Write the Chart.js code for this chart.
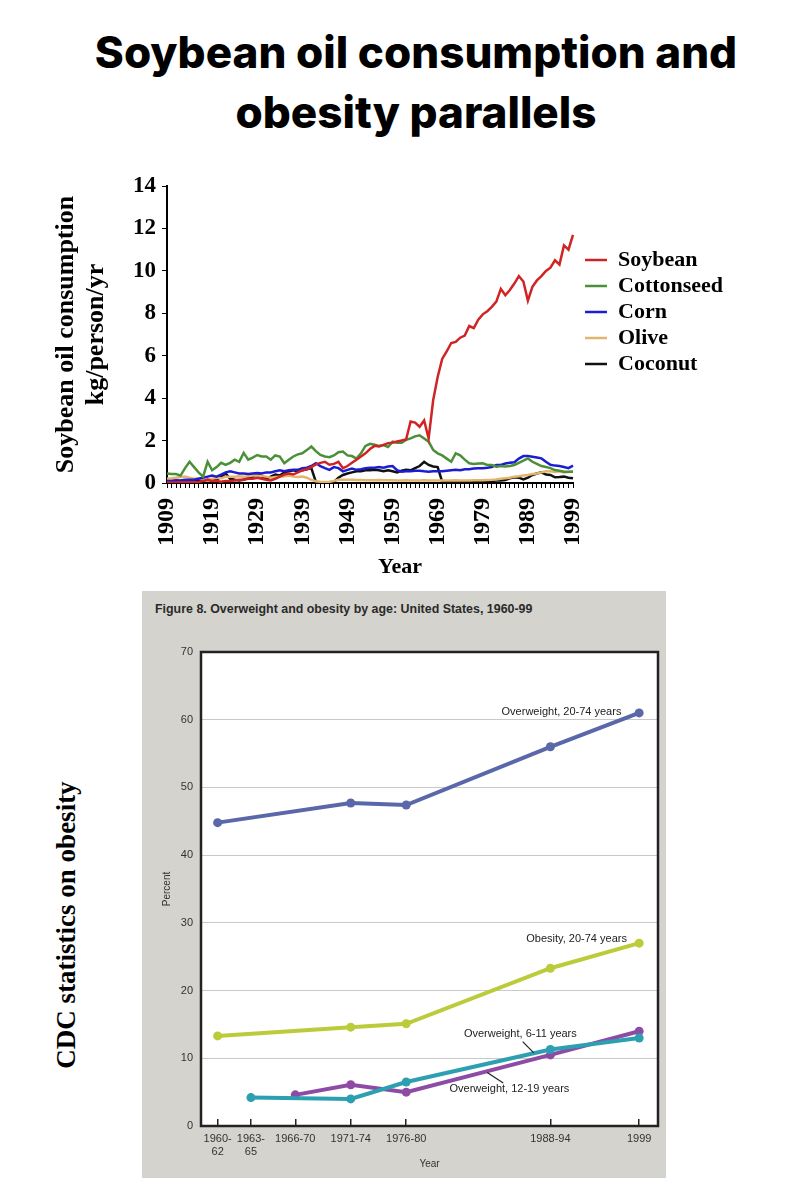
<!DOCTYPE html>
<html>
<head>
<meta charset="utf-8">
<title>Soybean oil consumption and obesity parallels</title>
<script src="https://cdn.jsdelivr.net/npm/chart.js@4.4.1/dist/chart.umd.min.js"></script>
<style>
  html, body { margin: 0; padding: 0; background: #fff; }
  body { width: 800px; height: 1200px; position: relative; overflow: hidden; }
  #pageTitle {
    position: absolute; left: 16px; top: 22px; width: 800px;
    text-align: center; color: #000;
    font-family: Inter, "Open Sans", sans-serif; font-weight: 800;
    font-size: 44px; line-height: 60px;
  }
  #oilChart { position: absolute; left: 0; top: 160px; }
  #yearLabel {
    position: absolute; left: 350px; top: 553px; width: 100px; text-align: center;
    font: bold 22px/26px "Liberation Serif", serif; color: #000;
  }
  #cdcLabel {
    position: absolute; left: 66px; top: 925px; white-space: nowrap;
    transform: translate(-50%, -50%) rotate(-90deg);
    font: bold 27px/32px "Liberation Serif", serif; color: #000;
  }
  #panel { position: absolute; left: 142px; top: 591px; width: 524px; height: 587px; background: #d4d3ce; }
  #figTitle {
    position: absolute; left: 13px; top: 10px; white-space: nowrap; color: #2a2a2a;
    font: bold 13px/16px "Liberation Sans", Arial, sans-serif;
    transform: scaleX(0.955); transform-origin: left center;
  }
  #cdcChart { position: absolute; left: 0; top: 0; }
</style>
</head>
<body>
<div id="pageTitle">Soybean oil consumption and<br>obesity parallels</div>
<canvas id="oilChart" width="800" height="420"></canvas>
<div id="yearLabel">Year</div>
<div id="cdcLabel">CDC statistics on obesity</div>
<div id="panel">
  <div id="figTitle">Figure 8. Overweight and obesity by age: United States, 1960-99</div>
  <canvas id="cdcChart" width="524" height="587"></canvas>
</div>
<script>
// ---- top chart: oil consumption, kg/person/yr ----
const years = [
  '1909','1910','1911','1912','1913','1914','1915','1916','1917','1918',
  '1919','1920','1921','1922','1923','1924','1925','1926','1927','1928',
  '1929','1930','1931','1932','1933','1934','1935','1936','1937','1938',
  '1939','1940','1941','1942','1943','1944','1945','1946','1947','1948',
  '1949','1950','1951','1952','1953','1954','1955','1956','1957','1958',
  '1959','1960','1961','1962','1963','1964','1965','1966','1967','1968',
  '1969','1970','1971','1972','1973','1974','1975','1976','1977','1978',
  '1979','1980','1981','1982','1983','1984','1985','1986','1987','1988',
  '1989','1990','1991','1992','1993','1994','1995','1996','1997','1998',
  '1999'
];
const yearTicks = ['1909','1919','1929','1939','1949','1959','1969','1979','1989','1999'];

const soybean = [
  0.02, 0.02, 0.02, 0.03, 0.03, 0.03, 0.04, 0.05, 0.10, 0.15,
  0.10, 0.10, 0.06, 0.10, 0.10, 0.12, 0.15, 0.15, 0.20, 0.20,
  0.25, 0.20, 0.15, 0.12, 0.20, 0.30, 0.40, 0.45, 0.40, 0.50,
  0.60, 0.65, 0.75, 0.88, 0.95, 1.00, 0.86, 0.90, 1.00, 0.70,
  0.80, 0.95, 1.10, 1.25, 1.40, 1.60, 1.75, 1.72, 1.80, 1.88,
  1.90, 1.96, 2.00, 2.05, 2.90, 2.85, 2.65, 2.95, 2.10, 3.90,
  5.00, 5.85, 6.20, 6.60, 6.65, 6.85, 6.95, 7.40, 7.30, 7.70,
  7.95, 8.10, 8.30, 8.55, 9.15, 8.85, 9.10, 9.40, 9.75, 9.50,
  8.60, 9.25, 9.55, 9.75, 10.00, 10.15, 10.50, 10.30, 11.20, 11.00,
  11.70
];
const cottonseed = [
  0.45, 0.42, 0.42, 0.35, 0.70, 1.00, 0.75, 0.50, 0.30, 1.00,
  0.60, 0.75, 0.95, 0.85, 0.95, 1.10, 1.00, 1.42, 1.10, 1.20,
  1.32, 1.25, 1.25, 1.10, 1.30, 1.25, 0.93, 1.10, 1.25, 1.35,
  1.40, 1.55, 1.72, 1.50, 1.32, 1.25, 1.22, 1.30, 1.45, 1.48,
  1.30, 1.27, 1.15, 1.40, 1.75, 1.85, 1.80, 1.75, 1.79, 1.70,
  1.95, 1.90, 1.90, 2.03, 2.10, 2.20, 2.25, 2.10, 1.95, 1.56,
  1.40, 1.30, 1.15, 1.00, 1.40, 1.30, 1.10, 0.93, 0.90, 0.92,
  0.93, 0.85, 0.85, 0.77, 0.80, 0.78, 0.80, 0.85, 0.95, 1.05,
  1.16, 1.00, 0.90, 0.80, 0.75, 0.70, 0.61, 0.58, 0.53, 0.53,
  0.53
];
const corn = [
  0.10, 0.10, 0.12, 0.12, 0.15, 0.15, 0.15, 0.20, 0.25, 0.30,
  0.35, 0.30, 0.40, 0.50, 0.55, 0.50, 0.45, 0.45, 0.42, 0.45,
  0.47, 0.45, 0.50, 0.50, 0.55, 0.60, 0.55, 0.60, 0.62, 0.62,
  0.70, 0.72, 0.80, 0.93, 0.80, 0.70, 0.62, 0.75, 0.70, 0.55,
  0.62, 0.68, 0.62, 0.65, 0.70, 0.72, 0.72, 0.75, 0.72, 0.78,
  0.80, 0.60, 0.53, 0.55, 0.55, 0.58, 0.58, 0.55, 0.53, 0.55,
  0.55, 0.55, 0.58, 0.60, 0.62, 0.60, 0.65, 0.65, 0.68, 0.70,
  0.70, 0.72, 0.75, 0.85, 0.85, 0.92, 0.95, 0.98, 1.15, 1.27,
  1.27, 1.24, 1.20, 1.16, 1.00, 0.86, 0.82, 0.80, 0.75, 0.70,
  0.82
];
const olive = [
  0.20, 0.22, 0.25, 0.28, 0.30, 0.25, 0.20, 0.22, 0.15, 0.12,
  0.20, 0.25, 0.22, 0.30, 0.30, 0.30, 0.32, 0.30, 0.32, 0.35,
  0.35, 0.33, 0.30, 0.25, 0.28, 0.30, 0.32, 0.35, 0.30, 0.28,
  0.30, 0.25, 0.15, 0.08, 0.06, 0.05, 0.06, 0.10, 0.15, 0.15,
  0.15, 0.15, 0.14, 0.14, 0.13, 0.13, 0.13, 0.14, 0.13, 0.13,
  0.13, 0.12, 0.12, 0.13, 0.12, 0.12, 0.12, 0.13, 0.12, 0.12,
  0.12, 0.12, 0.12, 0.12, 0.13, 0.12, 0.12, 0.12, 0.13, 0.13,
  0.13, 0.14, 0.15, 0.17, 0.20, 0.22, 0.25, 0.30, 0.32, 0.35,
  0.38, 0.42, 0.45, 0.50, 0.55, 0.55, 0.52, 0.55, 0.50, 0.52,
  0.55
];
const coconut = [
  0.10, 0.10, 0.12, 0.10, 0.12, 0.15, 0.10, 0.12, 0.10, 0.15,
  0.12, 0.15, 0.30, 0.45, 0.20, 0.15, 0.12, 0.15, 0.25, 0.30,
  0.45, 0.30, 0.20, 0.30, 0.40, 0.35, 0.50, 0.55, 0.60, 0.55,
  0.60, 0.65, 0.70, 0.05, 0.03, 0.03, 0.03, 0.05, 0.25, 0.38,
  0.45, 0.50, 0.55, 0.55, 0.60, 0.60, 0.62, 0.60, 0.55, 0.60,
  0.55, 0.50, 0.58, 0.62, 0.60, 0.70, 0.80, 1.00, 0.85, 0.78,
  0.75, 0.06, 0.06, 0.06, 0.06, 0.07, 0.07, 0.08, 0.08, 0.08,
  0.10, 0.10, 0.10, 0.12, 0.12, 0.14, 0.22, 0.27, 0.25, 0.17,
  0.25, 0.38, 0.45, 0.50, 0.40, 0.38, 0.27, 0.28, 0.30, 0.25,
  0.22
];

// ---- bottom chart: CDC overweight / obesity, percent ----
const periodX = [1961, 1964, 1968, 1973, 1978, 1991, 1999];
const periodLabels = [['1960-', '62'], ['1963-', '65'], '1966-70', '1971-74', '1976-80', '1988-94', '1999'];
const overweightAdult = [44.8, null, null, 47.7, 47.4, 56.0, 61.0];
const obesityAdult    = [13.3, null, null, 14.6, 15.1, 23.3, 27.0];
const overweight6to11 = [null, 4.2, null, 4.0, 6.5, 11.3, 13.0];
const overweight12to19 = [null, null, 4.6, 6.1, 5.0, 10.5, 14.0];

// series labels, placed in data units
const seriesNotes = [
  { text: 'Overweight, 20-74 years', x: 1997.4, y: 61.2, align: 'right' },
  { text: 'Obesity, 20-74 years', x: 1997.9, y: 27.6, align: 'right' },
  { text: 'Overweight, 6-11 years', x: 1983.2, y: 13.6, align: 'left', leader: [1988.5, 12.45, 1989.5, 10.8] },
  { text: 'Overweight, 12-19 years', x: 1981.9, y: 5.47, align: 'left', leader: [1985.3, 7.9, 1986.75, 6.35] }
];

const serif = 'Liberation Serif';
const sans = 'Liberation Sans';

// move the legend down next to the lines, like the original figure
const legendPlace = {
  id: 'legendPlace',
  afterLayout(chart) {
    const lg = chart.legend;
    lg.left = chart.chartArea.right + 8;
    lg.right = chart.width;
    lg.width = lg.right - lg.left;
    lg.top = chart.chartArea.top + 59;
  }
};

function oilSet(label, data, color) {
  return { label: label, data: data, borderColor: color, backgroundColor: color,
           borderWidth: 2.5, pointRadius: 0, tension: 0 };
}

const oilChart = new Chart(document.getElementById('oilChart'), {
  type: 'line',
  data: {
    labels: years,
    datasets: [
      oilSet('Soybean', soybean, '#d02424'),
      oilSet('Cottonseed', cottonseed, '#4a9038'),
      oilSet('Corn', corn, '#1c1cd2'),
      oilSet('Olive', olive, '#e2b46e'),
      oilSet('Coconut', coconut, '#111111')
    ]
  },
  options: {
    responsive: false,
    animation: false,
    layout: { padding: { left: 51, top: 26, right: 107, bottom: 0 } },
    scales: {
      x: {
        type: 'category',
        offset: false,
        afterFit: (scale) => { scale.height = 97; },
        grid: { display: true, drawOnChartArea: false, drawTicks: true, tickLength: 5, color: '#000', offset: false },
        border: { display: true, color: '#000', width: 2 },
        ticks: {
          autoSkip: false, minRotation: 90, maxRotation: 90, padding: 10, color: '#000',
          font: { family: serif, weight: 'bold', size: 24 },
          callback: function (value) {
            const lab = this.getLabelForValue(value);
            return yearTicks.includes(lab) ? lab : '';
          }
        }
      },
      y: {
        min: 0, max: 14,
        afterFit: (scale) => { scale.width = 116; },
        grid: { display: true, drawOnChartArea: false, drawTicks: true, tickLength: 5, color: '#000' },
        border: { display: true, color: '#000', width: 2 },
        ticks: { stepSize: 2, padding: 6, color: '#000', font: { family: serif, weight: 'bold', size: 23 } },
        title: {
          display: true, text: ['Soybean oil consumption', 'kg/person/yr'], color: '#000',
          padding: { top: 0, bottom: 0 },
          font: { family: serif, weight: 'bold', size: 26, lineHeight: 1.15 }
        }
      }
    },
    plugins: {
      legend: {
        display: true, position: 'right', align: 'start', maxWidth: 120,
        labels: {
          usePointStyle: true, pointStyle: 'line', pointStyleWidth: 22, padding: 4, color: '#000',
          font: { family: serif, weight: 'bold', size: 22 }
        }
      },
      tooltip: { enabled: false }
    }
  },
  plugins: [legendPlace]
});

// ---- CDC chart ----
function periodPoints(values) {
  return periodX.map((x, i) => ({ x: x, y: values[i] })).filter(p => p.y !== null);
}
function cdcSet(label, values, color) {
  return { label: label, data: periodPoints(values), borderColor: color, backgroundColor: color,
           borderWidth: 4, pointRadius: 4.5, pointBorderWidth: 0, tension: 0 };
}

const plotFrame = {
  id: 'plotFrame',
  beforeDraw(chart) {
    const { ctx, chartArea: a } = chart;
    ctx.save();
    ctx.fillStyle = '#ffffff';
    ctx.fillRect(a.left, a.top, a.right - a.left, a.bottom - a.top);
    ctx.restore();
  },
  afterDraw(chart) {
    const { ctx, chartArea: a } = chart;
    ctx.save();
    ctx.strokeStyle = '#222';
    ctx.lineWidth = 2.5;
    ctx.strokeRect(a.left, a.top, a.right - a.left, a.bottom - a.top);
    ctx.restore();
  }
};

const noteLabels = {
  id: 'noteLabels',
  afterDatasetsDraw(chart) {
    const { ctx, scales: { x, y } } = chart;
    ctx.save();
    ctx.font = '11px "' + sans + '"';
    ctx.fillStyle = '#222';
    ctx.strokeStyle = '#222';
    ctx.lineWidth = 1.2;
    ctx.textBaseline = 'middle';
    seriesNotes.forEach(n => {
      ctx.textAlign = n.align;
      ctx.fillText(n.text, x.getPixelForValue(n.x), y.getPixelForValue(n.y));
      if (n.leader) {
        ctx.beginPath();
        ctx.moveTo(x.getPixelForValue(n.leader[0]), y.getPixelForValue(n.leader[1]));
        ctx.lineTo(x.getPixelForValue(n.leader[2]), y.getPixelForValue(n.leader[3]));
        ctx.stroke();
      }
    });
    ctx.restore();
  }
};

const cdcChart = new Chart(document.getElementById('cdcChart'), {
  type: 'line',
  data: {
    datasets: [
      cdcSet('Overweight, 20-74 years', overweightAdult, '#5a67a8'),
      cdcSet('Obesity, 20-74 years', obesityAdult, '#bccb3a'),
      cdcSet('Overweight, 6-11 years', overweight6to11, '#2c9fb1'),
      cdcSet('Overweight, 12-19 years', overweight12to19, '#8e4ba6')
    ]
  },
  options: {
    responsive: false,
    animation: false,
    layout: { padding: { left: 19, top: 61, right: 8, bottom: 8 } },
    scales: {
      x: {
        type: 'linear', min: 1959.5, max: 2000.7,
        afterFit: (scale) => { scale.height = 44; },
        afterBuildTicks: (scale) => { scale.ticks = periodX.map(v => ({ value: v })); },
        grid: { display: true, drawOnChartArea: false, drawTicks: true, tickLength: -7, color: '#222', lineWidth: 1.5 },
        border: { display: false },
        ticks: {
          autoSkip: false, maxRotation: 0, minRotation: 0, padding: 13, color: '#333',
          font: { family: sans, size: 11 },
          callback: (value) => periodLabels[periodX.indexOf(value)]
        },
        title: { display: true, text: 'Year', color: '#333', padding: 0, font: { family: sans, size: 10 } }
      },
      y: {
        min: 0, max: 70,
        afterFit: (scale) => { scale.width = 40; },
        grid: { display: true, drawTicks: false, color: '#c9c9c9', lineWidth: 1 },
        border: { display: false },
        ticks: { stepSize: 10, padding: 8, color: '#333', font: { family: sans, size: 11 } },
        title: { display: true, text: 'Percent', color: '#333', padding: 0, font: { family: sans, size: 10 } }
      }
    },
    plugins: {
      legend: { display: false },
      tooltip: { enabled: false }
    }
  },
  plugins: [plotFrame, noteLabels]
});
</script>
</body>
</html>
